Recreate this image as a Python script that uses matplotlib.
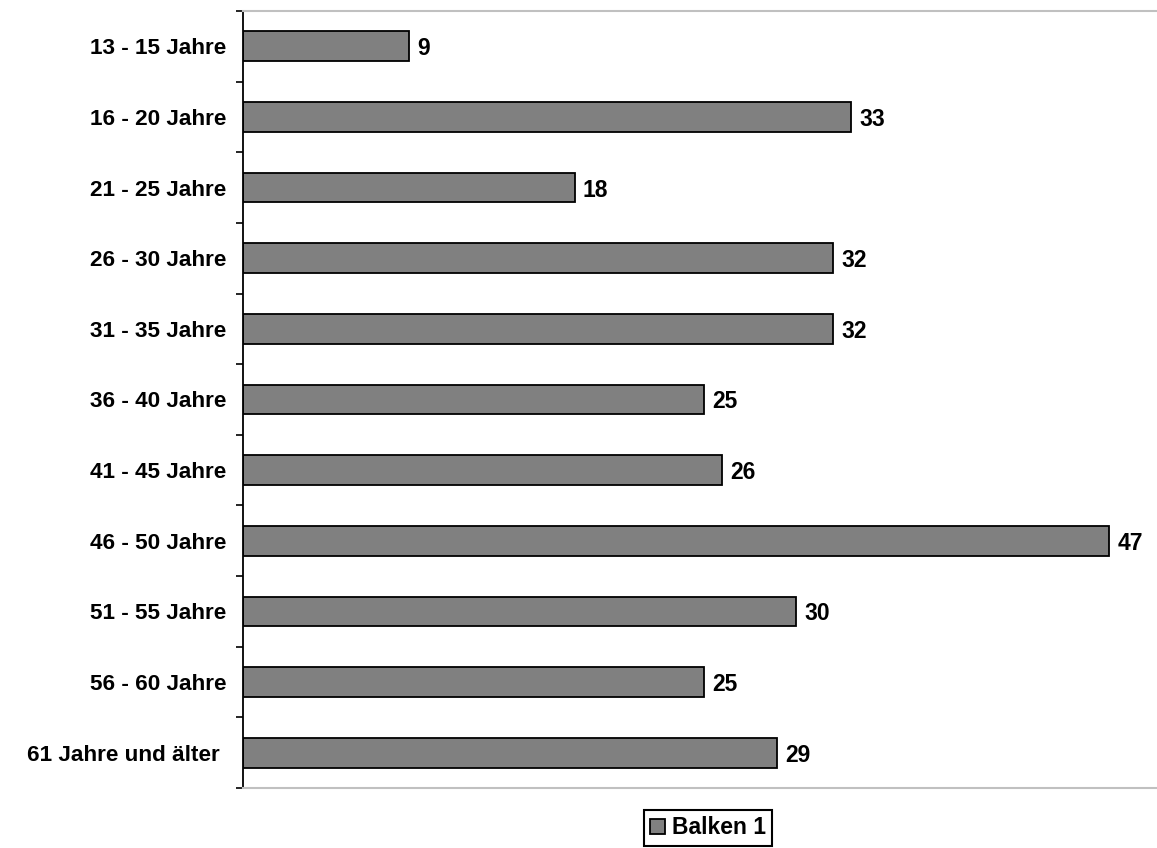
import matplotlib.pyplot as plt
import numpy as np

plt.rcParams['font.family'] = ['Liberation Sans', 'DejaVu Sans']
plt.rcParams['font.weight'] = 'bold'

# -------------- Data --------------
categories = ['13 - 15 Jahre', '16 - 20 Jahre', '21 - 25 Jahre', '26 - 30 Jahre',
              '31 - 35 Jahre', '36 - 40 Jahre', '41 - 45 Jahre', '46 - 50 Jahre',
              '51 - 55 Jahre', '56 - 60 Jahre', '61 Jahre und älter ']
values = [9, 33, 18, 32, 32, 25, 26, 47, 30, 25, 29]
series_name = 'Balken 1'
# ----------------------------------

fig = plt.figure(figsize=(11.57, 8.48), dpi=100)
ax = fig.add_axes([243/1157, 60/848, 1 - 243/1157, 777/848])

y = np.arange(len(categories))
bars = ax.barh(y, values, height=0.42, color='#808080', edgecolor='black',
               linewidth=1.3, label=series_name)

for yi, v in zip(y, values):
    ax.text(v + 0.45, yi, str(v), va='center_baseline', ha='left', fontsize=16.5,
            fontweight='bold')

ax.set_xlim(0, 49.6)
ax.set_ylim(len(categories) - 0.5, -0.5)

# category labels centred, tick marks between categories
ax.set_yticks(np.arange(-0.5, len(categories)), minor=False)
ax.set_yticklabels([])
ax.set_yticks(y, minor=True)
ax.set_yticklabels(categories, minor=True, fontsize=16.2, fontweight='bold')
ax.tick_params(axis='y', which='major', length=5, width=1.2, direction='out')
ax.tick_params(axis='y', which='minor', length=0, pad=12)
ax.set_xticks([])

ax.spines['left'].set_color('black')
ax.spines['left'].set_linewidth(1.3)
ax.spines['top'].set_color('#c0c0c0')
ax.spines['bottom'].set_color('#c0c0c0')
ax.spines['top'].set_linewidth(1.5)
ax.spines['bottom'].set_linewidth(1.5)
ax.spines['right'].set_visible(False)

leg = fig.legend(loc='center', bbox_to_anchor=(708/1157, 1 - 828/848),
                 fancybox=False, edgecolor='black', framealpha=1,
                 handlelength=0.65, handleheight=0.65, handletextpad=0.3,
                 borderpad=0.28, prop={'size': 16.5, 'weight': 'bold'})
leg.get_frame().set_linewidth(1.5)

fig.savefig('out.png', dpi=100)
